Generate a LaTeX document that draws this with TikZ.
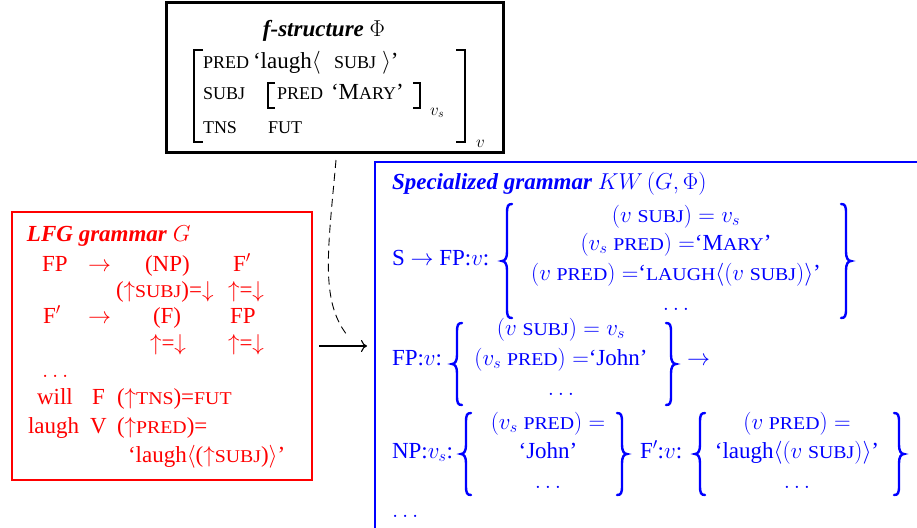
\documentclass[tikz,border=0pt]{standalone}
\usepackage{fix-cm}
\usepackage{amsmath}
\usepackage{fontspec}
\setmainfont{Liberation Serif}
\newfontfamily\scwide[FakeStretch=1.1]{Liberation Serif}
\usetikzlibrary{arrows.meta}
% small capitals, set as reduced upper case
\newcommand\fsc[1]{{\fontsize{18}{20}\selectfont #1}}
\newcommand\smc[1]{{\scwide\fontsize{18}{20}\selectfont #1}}
\newcommand\msc[1]{\text{\smc{#1}}}
% curly braces: stem x, centre y, half height
\newcommand\braceopen[3]{%
  \draw[brc] (#1+5,#2-#3) .. controls (#1+1,#2-#3) and (#1,#2-#3+2) .. (#1,#2-#3+9)
    -- (#1,#2-9) .. controls (#1,#2-3) and (#1-2,#2) .. (#1-5,#2)
    .. controls (#1-2,#2) and (#1,#2+3) .. (#1,#2+9)
    -- (#1,#2+#3-9) .. controls (#1,#2+#3-2) and (#1+1,#2+#3) .. (#1+5,#2+#3);}
\newcommand\braceclose[3]{%
  \draw[brc] (#1-5,#2-#3) .. controls (#1-1,#2-#3) and (#1,#2-#3+2) .. (#1,#2-#3+9)
    -- (#1,#2-9) .. controls (#1,#2-3) and (#1+2,#2) .. (#1+5,#2)
    .. controls (#1+2,#2) and (#1,#2+3) .. (#1,#2+9)
    -- (#1,#2+#3-9) .. controls (#1,#2+#3-2) and (#1-1,#2+#3) .. (#1-5,#2+#3);}
\begin{document}
\begin{tikzpicture}[x=1pt,y=-1pt,
  every node/.style={inner sep=0pt, outer sep=0pt, font=\fontsize{23}{28}\selectfont},
  bw/.style={anchor=base west},
  bc/.style={anchor=base},
  frame/.style={draw, line width=2.5pt},
  brk/.style={line width=2.6pt},
  brc/.style={blue, line width=2.4pt, line cap=round}]
\useasboundingbox (0,0) rectangle (917,527);
\clip (0,0) rectangle (917,527);

% ---- the three boxes
\node[frame, draw=black, line width=3pt, minimum width=337pt, minimum height=149pt] (fs) at (334.5,77.5) {};
\node[frame, draw=red, minimum width=300pt, minimum height=268pt] (G) at (162,346) {};
\node[frame, draw=blue, minimum width=620pt, minimum height=420pt, anchor=north west] (KW) at (375,162) {};

% ---- f-structure
\node[bc] (fstitle) at (324,37) {\textbf{\textit{f-structure}} $\Phi$};
\draw[brk] (203,50) -- (194,50) -- (194,142) -- (203,142);
\draw[brk] (456,50) -- (465,50) -- (465,142) -- (456,142);
\node[bw] (fsv) at (476,147) {\fontsize{17}{18}\selectfont $v$};
\node[bw] (fa1) at (203,68) {\fsc{PRED}};
\node[bw] (fv1) at (253,68) {‘laugh$\langle$};
\node[bw] (fv1s) at (334,68) {\fsc{SUBJ}};
\node[bw] (fv1e) at (382,68) {$\rangle$’};
\node[bw] (fa2) at (203,99) {\fsc{SUBJ}};
\draw[brk, line width=2pt] (275,83) -- (268,83) -- (268,108) -- (275,108);
\node[bw] (fi1) at (277,99) {\fsc{PRED}};
\node[bw] (fi2) at (331,99) {‘M\fsc{ARY}’};
\draw[brk, line width=2pt] (413,83) -- (420,83) -- (420,108) -- (413,108);
\node[bw] (fiv) at (430,115) {\fontsize{17}{18}\selectfont $v_s$};
\node[bw] (fa3) at (203,133) {\fsc{TNS}};
\node[bw] (fv3) at (268,133) {\fsc{FUT}};

% ---- LFG grammar
\begin{scope}[every node/.append style={text=red}]
\node[bw] (gt) at (27,241) {\textbf{\textit{LFG grammar}} $G$};
\node[bw] (g1a) at (42,271) {FP};
\node[bw] (g1b) at (88,271) {$\rightarrow$};
\node[bw] (g1c) at (145,271) {(NP)};
\node[bw] (g1d) at (233,271) {F$'$};
\node[bw] (g2a) at (116,297) {(${\uparrow}$\smc{SUBJ})=${\downarrow}$};
\node[bw] (g2b) at (228,297) {${\uparrow}$=${\downarrow}$};
\node[bw] (g3a) at (43,323) {F$'$};
\node[bw] (g3b) at (88,323) {$\rightarrow$};
\node[bw] (g3c) at (153,323) {(F)};
\node[bw] (g3d) at (230,323) {FP};
\node[bw] (g4a) at (150,350) {${\uparrow}$=${\downarrow}$};
\node[bw] (g4b) at (228,350) {${\uparrow}$=${\downarrow}$};
\node[bw] (g5) at (42,377) {$\ldots$};
\node[bw] (g6a) at (37,404) {will};
\node[bw] (g6b) at (92,404) {F};
\node[bw] (g6c) at (117,404) {(${\uparrow}$\smc{TNS})=\smc{FUT}};
\node[bw] (g7a) at (28,433) {laugh};
\node[bw] (g7b) at (90,433) {V};
\node[bw] (g7c) at (117,433) {(${\uparrow}$\smc{PRED})=};
\node[bw] (g8) at (128,462) {‘laugh$\langle$(${\uparrow}$\smc{SUBJ})$\rangle$’};
\end{scope}

% ---- specialized grammar
\begin{scope}[every node/.append style={text=blue}]
\node[bw] (kt) at (392,189) {\textbf{\textit{Specialized grammar}} $KW\,(G,\Phi)$};
% S rule
\node[bw] (r1) at (392,265) {S $\rightarrow$ FP:$v$:};
\node[bc] (r1a) at (676,222) {$(v\ \msc{SUBJ}) = v_s$};
\node[bc] (r1b) at (676,250) {$(v_s\ \msc{PRED}) =$‘M\smc{ARY}’};
\node[bc] (r1c) at (676,280) {$(v\ \msc{PRED}) =$‘\smc{LAUGH}$\langle(v\ \msc{SUBJ})\rangle$’};
\node[bc] (r1d) at (676,310) {$\ldots$};
% FP rule
\node[bw] (r2) at (392,365) {FP:$v$:};
\node[bc] (r2a) at (561,335) {$(v\ \msc{SUBJ}) = v_s$};
\node[bc] (r2b) at (561,365) {$(v_s\ \msc{PRED}) =$‘John’};
\node[bc] (r2c) at (561,395) {$\ldots$};
\node[bw] (r2arr) at (687,365) {$\rightarrow$};
% NP and F' daughters
\node[bw] (r3) at (392,458) {NP:$v_s$:};
\node[bc] (r3a) at (548,429) {$(v_s\ \msc{PRED}) =$};
\node[bc] (r3b) at (548,458) {‘John’};
\node[bc] (r3c) at (548,488) {$\ldots$};
\node[bw] (r4) at (640,458) {F$'$:$v$:};
\node[bc] (r4a) at (797,429) {$(v\ \msc{PRED}) =$};
\node[bc] (r4b) at (797,458) {‘laugh$\langle(v\ \msc{SUBJ})\rangle$’};
\node[bc] (r4c) at (797,488) {$\ldots$};
\node[bw] (r5) at (392,517) {$\ldots$};
\end{scope}
\braceopen{507}{261}{57}
\braceclose{846}{261}{57}
\braceopen{457}{364}{41}
\braceclose{671}{364}{41}
\braceopen{466}{454}{41}
\braceclose{622}{454}{41}
\braceopen{700}{454}{41}
\braceclose{899}{454}{41}

% ---- connectors
\coordinate (dend) at (347,335);
\draw[line width=0.9pt, dash pattern=on 8pt off 5pt]
  ([xshift=1.5pt,yshift=-8pt]fs.south) .. controls (328,250) and (320,300) .. (dend);
\draw[line width=1.1pt, -{Computer Modern Rightarrow[length=6pt,width=12pt]}]
  ([xshift=7pt]G.east) -- ([xshift=-8pt]G.east -| KW.west);
\end{tikzpicture}
\end{document}
